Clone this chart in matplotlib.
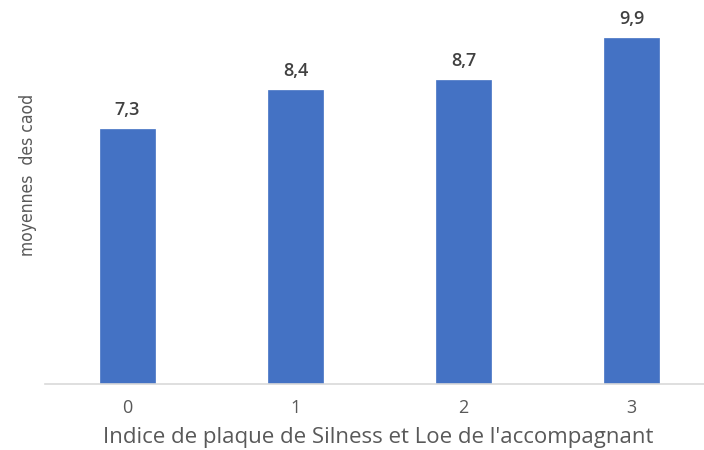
import matplotlib
matplotlib.use("Agg")
import matplotlib.pyplot as plt

categories = ["0", "1", "2", "3"]
values = [7.3, 8.4, 8.7, 9.9]
value_labels = ["7,3", "8,4", "8,7", "9,9"]
xlabel = "Indice de plaque de Silness et Loe de l'accompagnant"
ylabel = "moyennes  des caod"

W, H = 704, 450
fig = plt.figure(figsize=(W / 100, H / 100), dpi=100)
left, right, bottom = 45, 704, 384
ymax = 10.9
scale = 35.0
top = bottom - ymax * scale
ax = fig.add_axes([left / W, (H - bottom) / H, (right - left) / W, (bottom - top) / H])

x = list(range(len(categories)))
ax.bar(x, values, width=0.33, color="#4472C4", edgecolor="#4472C4", linewidth=0.5, zorder=2)
ax.set_xlim(-0.49, 3.43)
ax.set_ylim(0, ymax)

for xi, v, lab in zip(x, values, value_labels):
    ax.annotate(lab, (xi, v), xytext=(0, 7), textcoords="offset points",
                ha="center", va="bottom", fontsize=13, fontweight="semibold",
                color="#404040", family="Open Sans")

for s in ["top", "right", "left"]:
    ax.spines[s].set_visible(False)
ax.spines["bottom"].set_color("#D9D9D9")
ax.spines["bottom"].set_linewidth(1.2)
ax.set_yticks([])
ax.set_xticks(x)
ax.set_xticklabels(categories, fontsize=13, color="#595959", family="Open Sans")
ax.tick_params(axis="x", length=0, pad=11)

fig.text(378 / W, 1 - 438 / H, xlabel, ha="center", va="center",
         fontsize=16, color="#595959", family="Open Sans")
fig.text(28 / W, 1 - 175 / H, ylabel, ha="center", va="center", rotation=90,
         fontsize=12.5, color="#595959", family="DejaVu Sans", fontstretch="condensed")

fig.savefig("out.png", dpi=100)
